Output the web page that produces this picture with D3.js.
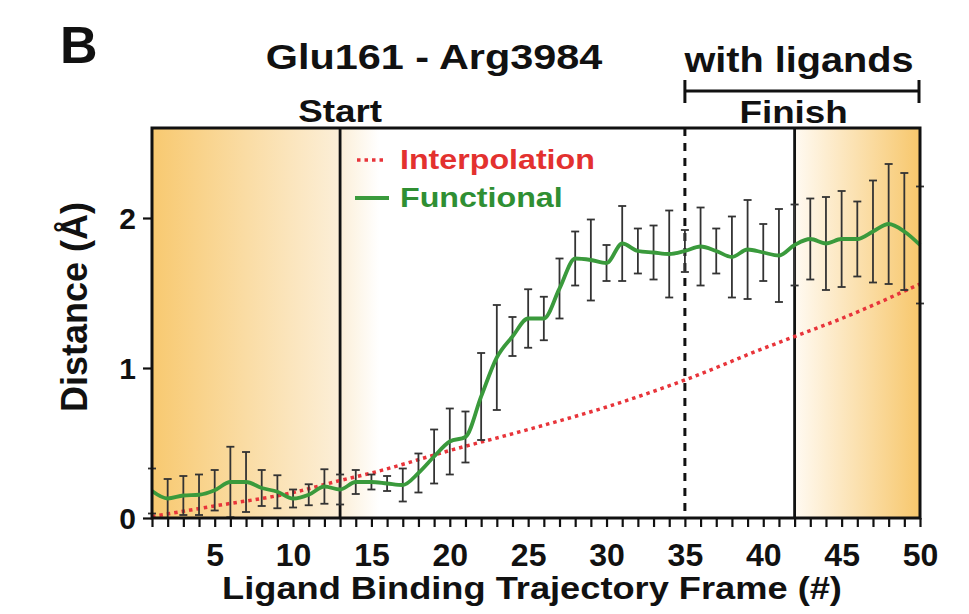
<!DOCTYPE html>
<html>
<head>
<meta charset="utf-8">
<script src="https://cdn.jsdelivr.net/npm/d3@7"></script>
<style>
  body { margin: 0; background: #fff; }
  text { font-family: "Liberation Sans", Arial, sans-serif; font-weight: bold; }
</style>
</head>
<body>
<div id="chart"></div>
<script>
// Datos (Glu161 - Arg3984)
const frames = d3.range(1, 51)
const functional = [0.18, 0.13, 0.15, 0.155, 0.185, 0.24, 0.24, 0.20, 0.175, 0.13,
                    0.155, 0.21, 0.19, 0.24, 0.24, 0.23, 0.22, 0.30, 0.41, 0.51,
                    0.54, 0.81, 1.07, 1.21, 1.33, 1.33, 1.53, 1.73, 1.72, 1.70,
                    1.83, 1.78, 1.77, 1.76, 1.78, 1.81, 1.78, 1.74, 1.79, 1.77,
                    1.75, 1.82, 1.86, 1.83, 1.86, 1.86, 1.91, 1.96, 1.91, 1.82]
const functionalErr = [0.15, 0.13, 0.13, 0.135, 0.135, 0.235, 0.20, 0.12, 0.11, 0.06,
                       0.07, 0.115, 0.10, 0.08, 0.05, 0.05, 0.11, 0.13, 0.18, 0.22,
                       0.17, 0.29, 0.35, 0.13, 0.195, 0.145, 0.20, 0.18, 0.27, 0.12,
                       0.25, 0.15, 0.18, 0.29, 0.14, 0.26, 0.15, 0.27, 0.33, 0.19,
                       0.31, 0.27, 0.27, 0.31, 0.32, 0.25, 0.34, 0.40, 0.39, 0.39]
const interpFrames = [1, 5, 10, 13, 15, 20, 25, 30, 35, 40, 42, 45, 50]
const interpolation = [0.01, 0.08, 0.17, 0.25, 0.30, 0.45, 0.59, 0.74, 0.92, 1.13, 1.21, 1.33, 1.56]
const xTicks = d3.range(1, 51)
const xTickLabels = [5, 10, 15, 20, 25, 30, 35, 40, 45, 50]
const yTicks = [0, 1, 2]
const startFrame = 13
const ligandFrame = 35
const finishFrame = 42

// ----------------------------------------------------------

const width = 969
const height = 614
const margin = { top: 128, bottom: 96, left: 152, right: 49 }
const stretch = 1.15   // el texto del original está algo ensanchado

const svg = d3.select("div#chart").append("svg")
    .attr("width", width)
    .attr("height", height)

const scaleX = d3.scaleLinear().domain([1, 50]).range([margin.left, width - margin.right])
const scaleY = d3.scaleLinear().domain([0, 2.6]).range([height - margin.bottom, margin.top])

const x0 = scaleX.range()[0], x1 = scaleX.range()[1]
const y0 = scaleY.range()[0], y1 = scaleY.range()[1]

// Texto con ensanche horizontal
function label(str, x, y, size, anchor, color) {
    return svg.append("g")
        .attr("transform", `translate(${x} ${y}) scale(${stretch} 1)`)
        .append("text").text(str)
        .attr("text-anchor", anchor)
        .style("font-size", size + "px")
        .attr("fill", color)
}

// Degradados de fondo
const defs = svg.append("defs")
const gLeft = defs.append("linearGradient").attr("id", "gLeft")
    .attr("gradientUnits", "userSpaceOnUse")
    .attr("x1", x0).attr("x2", scaleX(15.5)).attr("y1", 0).attr("y2", 0)
gLeft.append("stop").attr("offset", 0).attr("stop-color", "#f8c970")
gLeft.append("stop").attr("offset", (scaleX(startFrame) - x0) / (scaleX(15.5) - x0)).attr("stop-color", "#fcefd8")
gLeft.append("stop").attr("offset", 1).attr("stop-color", "#ffffff")

const gRight = defs.append("linearGradient").attr("id", "gRight")
    .attr("gradientUnits", "userSpaceOnUse")
    .attr("x1", scaleX(finishFrame)).attr("x2", x1).attr("y1", 0).attr("y2", 0)
gRight.append("stop").attr("offset", 0).attr("stop-color", "#fffaf2")
gRight.append("stop").attr("offset", 1).attr("stop-color", "#f7c76c")

svg.append("rect")
    .attr("x", x0).attr("y", y1)
    .attr("width", scaleX(15.5) - x0).attr("height", y0 - y1)
    .attr("fill", "url(#gLeft)")
svg.append("rect")
    .attr("x", scaleX(finishFrame)).attr("y", y1)
    .attr("width", x1 - scaleX(finishFrame)).attr("height", y0 - y1)
    .attr("fill", "url(#gRight)")

// Líneas verticales Start / ligandos / Finish
svg.append("line")
    .attr("x1", scaleX(startFrame)).attr("x2", scaleX(startFrame))
    .attr("y1", y1).attr("y2", y0)
    .attr("stroke", "#111").attr("stroke-width", 2.8)
svg.append("line")
    .attr("x1", scaleX(finishFrame)).attr("x2", scaleX(finishFrame))
    .attr("y1", y1).attr("y2", y0)
    .attr("stroke", "#111").attr("stroke-width", 2.8)
svg.append("line")
    .attr("x1", scaleX(ligandFrame)).attr("x2", scaleX(ligandFrame))
    .attr("y1", y1).attr("y2", y0)
    .attr("stroke", "#111").attr("stroke-width", 3)
    .attr("stroke-dasharray", "8 7")

// Interpolación (punteada roja)
const interpData = interpFrames.map((f, i) => ({ f: f, v: interpolation[i] }))
const interpLine = d3.line().x(d => scaleX(d.f)).y(d => scaleY(d.v)).curve(d3.curveMonotoneX)
svg.append("path").datum(interpData)
    .attr("d", interpLine)
    .attr("fill", "none")
    .attr("stroke", "#e8343a")
    .attr("stroke-width", 3.5)
    .attr("stroke-dasharray", "3.5 4")

// Barras de error
const data = frames.map((f, i) => ({ f: f, v: functional[i], e: functionalErr[i] }))
const errG = svg.append("g").attr("stroke", "#333").attr("stroke-width", 1.8)
errG.selectAll("line.err").data(data).enter().append("line")
    .attr("class", "err")
    .attr("x1", d => scaleX(d.f)).attr("x2", d => scaleX(d.f))
    .attr("y1", d => scaleY(d.v + d.e)).attr("y2", d => scaleY(Math.max(0, d.v - d.e)))
errG.selectAll("line.capT").data(data).enter().append("line")
    .attr("class", "capT")
    .attr("x1", d => scaleX(d.f) - 4).attr("x2", d => scaleX(d.f) + 4)
    .attr("y1", d => scaleY(d.v + d.e)).attr("y2", d => scaleY(d.v + d.e))
errG.selectAll("line.capB").data(data).enter().append("line")
    .attr("class", "capB")
    .attr("x1", d => scaleX(d.f) - 4).attr("x2", d => scaleX(d.f) + 4)
    .attr("y1", d => scaleY(Math.max(0, d.v - d.e))).attr("y2", d => scaleY(Math.max(0, d.v - d.e)))

// Línea funcional (verde)
const funcLine = d3.line().x(d => scaleX(d.f)).y(d => scaleY(d.v)).curve(d3.curveMonotoneX)
svg.append("path").datum(data)
    .attr("d", funcLine)
    .attr("fill", "none")
    .attr("stroke", "#3a9a3c")
    .attr("stroke-width", 3.8)
    .attr("stroke-linejoin", "round")

// Marco del gráfico
svg.append("rect")
    .attr("x", x0).attr("y", y1)
    .attr("width", x1 - x0).attr("height", y0 - y1)
    .attr("fill", "none").attr("stroke", "#111").attr("stroke-width", 3)

// Ejes
const xAxis = d3.axisBottom(scaleX).tickValues(xTicks).tickSize(9)
    .tickFormat(d => xTickLabels.includes(d) ? d : "")
const yAxis = d3.axisLeft(scaleY).tickValues(yTicks).tickSize(9).tickFormat(d3.format("d"))

const xAxisGroup = svg.append("g").attr("transform", `translate(0 ${y0})`).call(xAxis)
const yAxisGroup = svg.append("g").attr("transform", `translate(${x0} 0)`).call(yAxis)
;[xAxisGroup, yAxisGroup].forEach(g => {
    g.select(".domain").remove()
    g.selectAll(".tick line").attr("stroke", "#111").attr("stroke-width", 2.2)
    g.selectAll(".tick text").attr("fill", "#111").style("font-size", "32px")
})
xAxisGroup.selectAll(".tick text").attr("dy", null).attr("y", 48)
yAxisGroup.selectAll(".tick text").attr("x", -16).attr("dy", "0.36em").style("font-size", "30px")

// Textos
svg.append("text").text("B").attr("x", 60).attr("y", 63)
    .style("font-size", "52px").attr("fill", "#111")
label("Glu161 - Arg3984", 434, 69, 36, "middle", "#111")
label("with ligands", 799, 72, 34.5, "middle", "#111")
label("Start", scaleX(startFrame), 122, 32, "middle", "#111")
label("Finish", scaleX(finishFrame) - 1, 123, 32, "middle", "#111")

// Corchete "with ligands"
const br = svg.append("g").attr("stroke", "#111").attr("stroke-width", 3)
br.append("line").attr("x1", scaleX(ligandFrame)).attr("x2", x1).attr("y1", 91).attr("y2", 91)
br.append("line").attr("x1", scaleX(ligandFrame)).attr("x2", scaleX(ligandFrame)).attr("y1", 80).attr("y2", 103)
br.append("line").attr("x1", x1 - 1).attr("x2", x1 - 1).attr("y1", 80).attr("y2", 103)

// Leyenda
svg.append("line").attr("x1", 357).attr("x2", 384).attr("y1", 160).attr("y2", 160)
    .attr("stroke", "#e8343a").attr("stroke-width", 3.5).attr("stroke-dasharray", "3.5 4")
label("Interpolation", 400, 169, 28, "start", "#e3312f")
svg.append("line").attr("x1", 355).attr("x2", 389).attr("y1", 198).attr("y2", 198)
    .attr("stroke", "#3a9a3c").attr("stroke-width", 3.8)
label("Functional", 400, 207, 28, "start", "#2f8f33")

// Etiquetas de ejes
label("Ligand Binding Trajectory Frame (#)", 532, 599, 31.5, "middle", "#111")
svg.append("text").text("Distance (Å)")
    .attr("transform", `translate(87, 307) rotate(-90)`)
    .attr("text-anchor", "middle").style("font-size", "36px").attr("fill", "#111")
</script>
</body>
</html>
